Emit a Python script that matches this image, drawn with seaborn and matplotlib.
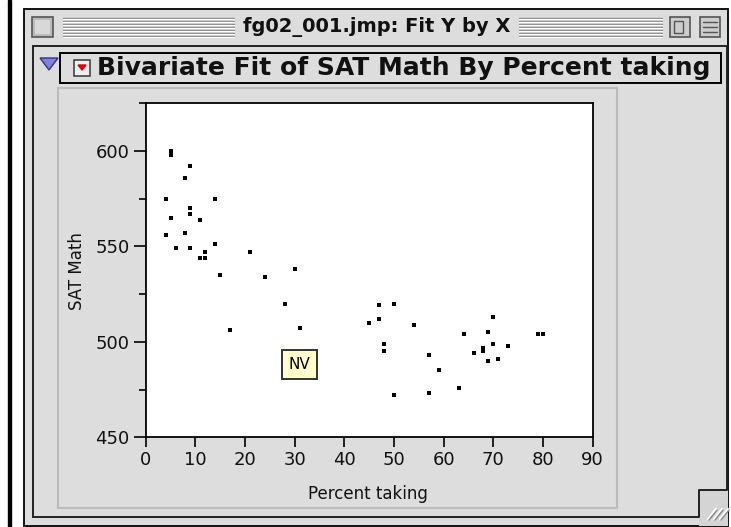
import matplotlib
matplotlib.use('Agg')
import matplotlib.pyplot as plt
import seaborn as sns
import pandas as pd
from matplotlib.patches import Rectangle, Polygon

# SAT Math vs percent of students taking the test
pct = [5, 5, 9, 8, 4, 14, 9, 9, 5, 11, 4, 8, 14, 6, 9, 12, 11, 12, 21, 15,
       30, 24, 28, 17, 31, 47, 45, 47, 48, 50, 54, 48, 70, 64, 69, 79, 80,
       70, 73, 68, 68, 66, 69, 71, 57, 59, 63, 57, 50]
math = [600, 598, 592, 586, 575, 575, 570, 567, 565, 564, 556, 557, 551, 549,
        549, 547, 544, 544, 547, 535, 538, 534, 520, 506, 507, 519, 510, 512,
        499, 520, 509, 495, 513, 504, 505, 504, 504, 499, 498, 497, 495, 494,
        490, 491, 493, 485, 476, 473, 472]
label_state = 'NV'
label_point = (31, 507)

x_ticks = [0, 10, 20, 30, 40, 50, 60, 70, 80, 90]
y_ticks = [450, 500, 550, 600]
y_minor = [475, 525, 575, 625]

df = pd.DataFrame({'Percent taking': pct, 'SAT Math': math})

sns.set_style('white')
plt.rcParams['font.family'] = ['DejaVu Sans']

W, H = 731, 527
fig = plt.figure(figsize=(W / 100, H / 100), dpi=100)
fig.patch.set_facecolor('white')

# window chrome drawn in pixel coordinates
bg = fig.add_axes([0, 0, 1, 1])
bg.set_xlim(0, W)
bg.set_ylim(H, 0)
bg.axis('off')

gray = '#DDDDDD'
bg.add_patch(Rectangle((8, 0), 2.5, H, color='black'))
bg.add_patch(Rectangle((24, 9), 704, 517, fc=gray, ec='black', lw=1.3))

# title bar
bg.add_patch(Rectangle((32, 17), 21, 20, fc='#BBBBBB', ec='#555555', lw=1.2))
bg.add_patch(Rectangle((35, 20), 15, 14, fc='#D8D8D8', ec='none'))
for yy in range(18, 37, 3):
    for x0, x1 in [(63, 234), (519, 662)]:
        bg.plot([x0, x1], [yy, yy], color='#8C8C8C', lw=1.0)
        bg.plot([x0, x1], [yy + 1, yy + 1], color='white', lw=0.8)
bg.text(377, 27, 'fg02_001.jmp: Fit Y by X', ha='center', va='center',
        fontsize=14, fontweight='bold', color='#111111')
for bx in [670, 700]:
    bg.add_patch(Rectangle((bx, 17), 20, 20, fc='#CCCCCC', ec='#555555', lw=1.2))
bg.add_patch(Rectangle((674, 21), 9, 12, fc='none', ec='#555555', lw=1))
for yy in [22, 27, 32]:
    bg.plot([703, 717], [yy, yy], color='#555555', lw=1)

# content area
bg.add_patch(Rectangle((33, 46), 694, 471, fc=gray, ec='#222222', lw=1.4))
bg.add_patch(Rectangle((699, 490), 29, 36, fc='#D4D4D4', ec='none'))
bg.plot([727, 699, 699], [490, 490, 517], color='#222222', lw=1.4)
for k in range(3):
    o = k * 6
    bg.plot([708 + o, 716 + o], [519, 509], color='white', lw=1.6)
    bg.plot([709 + o, 717 + o], [520, 510], color='#888888', lw=1.0)

# outline header
bg.add_patch(Polygon([(40, 58), (58, 58), (49, 70)], fc='#8080E0', ec='#333388', lw=1))
bg.add_patch(Rectangle((60, 53), 661, 30, fc=gray, ec='black', lw=1.4))
bg.add_patch(Rectangle((74, 60), 16, 16, fc='#EEEEEE', ec='#444444', lw=1.2))
bg.add_patch(Polygon([(78, 65), (86, 65), (82, 70)], fc='#DD0000', ec='#DD0000'))
bg.text(97, 68.5, 'Bivariate Fit of SAT Math By Percent taking', ha='left',
        va='center', fontsize=18, fontweight='bold', color='#111111')
bg.add_patch(Rectangle((58, 88), 559, 420, fc='none', ec='#BBBBBB', lw=1.5))

# scatter plot
l, r, t, b = 145.7, 592.7, 103, 437.3
ax = fig.add_axes([l / W, 1 - b / H, (r - l) / W, (b - t) / H])
ax.set_facecolor('white')
sns.scatterplot(data=df, x='Percent taking', y='SAT Math', ax=ax,
                marker='s', s=5, color='black', linewidth=0)
ax.set_xlim(0, 90)
ax.set_ylim(450, 625)
ax.set_xticks(x_ticks)
ax.set_yticks(y_ticks)
ax.set_yticks(y_minor, minor=True)
ax.tick_params(axis='both', which='major', direction='out', color='black',
               width=1.2, labelsize=13, labelcolor='#111111',
               bottom=True, left=True)
ax.tick_params(axis='x', which='major', length=7, pad=3)
ax.tick_params(axis='y', which='major', length=8.5, pad=3)
ax.tick_params(axis='y', which='minor', direction='out', length=5, width=1.2,
               color='black', left=True)
for sp in ax.spines.values():
    sp.set_color('black')
    sp.set_linewidth(1.3)
ax.set_xlabel('Percent taking', fontsize=12, color='#111111')
ax.set_ylabel('SAT Math', fontsize=12, color='#111111')
ax.xaxis.set_label_coords(0.497, -0.143)
ax.yaxis.set_label_coords(-0.133, 0.497)

ax.annotate(label_state, xy=label_point, xytext=(0, -36),
            textcoords='offset pixels', ha='center', va='center',
            fontsize=11, color='black',
            bbox=dict(boxstyle='square,pad=0.45', fc='#FFFFCC', ec='#333333',
                      lw=1.4))

fig.savefig('out.png', dpi=100)
